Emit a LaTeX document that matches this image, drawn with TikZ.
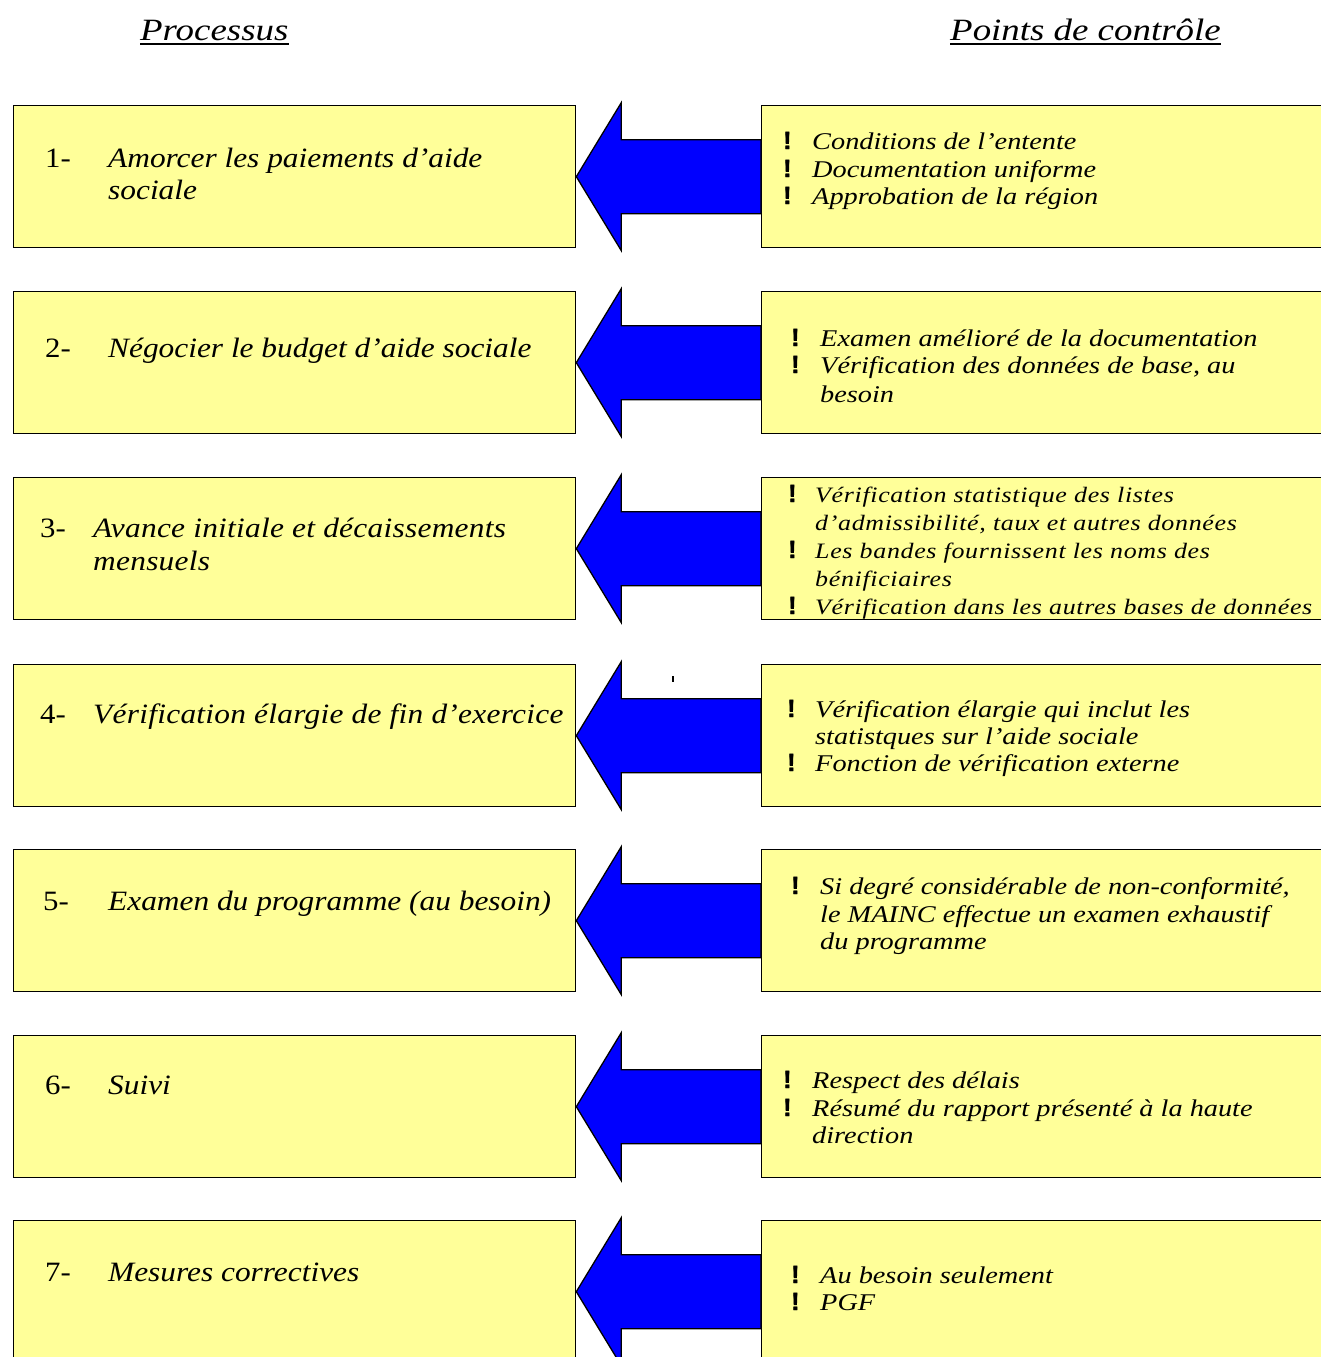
\documentclass[tikz,border=0pt]{standalone}
\usepackage{fontspec}
\setmainfont{Liberation Serif}
\newfontfamily\bangfont[FakeBold=1.5]{Liberation Sans Bold}
\newfontfamily\hdfont[FakeStretch=1.19]{Liberation Serif Italic}
\newfontfamily\lfont[FakeStretch=1.12]{Liberation Serif Italic}
\newfontfamily\lwfont[FakeStretch=1.12,LetterSpace=1]{Liberation Serif Italic}
\newfontfamily\rfont[FakeStretch=1.18]{Liberation Serif Italic}
\newfontfamily\rsfont[FakeStretch=1.18,LetterSpace=3]{Liberation Serif Italic}
\newfontfamily\numfont[FakeStretch=1.1]{Liberation Serif}
\usetikzlibrary{calc}
\definecolor{boxyellow}{RGB}{255,255,153}
\definecolor{arrowblue}{RGB}{0,0,255}
\begin{document}
\begin{tikzpicture}[x=1pt,y=-1pt,
  box/.style={draw=black, line width=1.3pt, fill=boxyellow, inner sep=0pt, anchor=north west, minimum height=142pt},
  lbox/.style={box, minimum width=562pt},
  rbox/.style={box, minimum width=580pt},
  arr/.style={draw=black, line width=1.3pt, fill=arrowblue, line join=miter},
  lt/.style={anchor=base west, inner sep=0pt, font=\fontsize{28}{30}\lfont},
  ltw/.style={anchor=base west, inner sep=0pt, font=\fontsize{28}{30}\lwfont},
  num/.style={anchor=base west, inner sep=0pt, font=\fontsize{28}{30}\numfont},
  rt/.style={anchor=base west, inner sep=0pt, font=\fontsize{24}{27}\rfont},
  rts/.style={anchor=base west, inner sep=0pt, font=\fontsize{22}{27}\rsfont},
  bang/.style={anchor=base west, inner sep=0pt, font=\fontsize{25}{26}\bangfont},
  hd/.style={anchor=base west, inner sep=0pt, font=\fontsize{31}{34}\hdfont}]
\useasboundingbox (0,0) rectangle (1320,1357);

% headers
\node[hd] (h1) at (140,40) {Processus};
\node[hd] (h2) at (950,40) {Points de contrôle};
\draw[line width=1.5pt] ([yshift=-4pt]h1.base west) -- ([yshift=-4pt]h1.base east);
\draw[line width=1.5pt] ([yshift=-4pt]h2.base west) -- ([yshift=-4pt]h2.base east);

% boxes
\foreach \i/\t in {1/105,2/291,3/477,4/664,5/849,6/1035,7/1220}{
  \node[lbox] (L\i) at (13,\t) {};
  \node[rbox] (R\i) at (761,\t) {};
}

% arrows
\foreach \i in {1,...,7}{
  \draw[arr] (L\i.east) -- ($(L\i.east)+(45,-74)$) -- ($(L\i.east)+(45,-37)$)
    -- ($(R\i.west)+(0,-37)$) -- ($(R\i.west)+(0,37)$)
    -- ($(L\i.east)+(45,37)$) -- ($(L\i.east)+(45,74)$) -- cycle;
}
\fill (672,676) rectangle (674,682);

% row 1
\node[num] (n1) at (45,167) {1-};
\node[lt] (a1) at (108,167) {Amorcer les paiements d’aide};
\node[lt] (a1b) at (108,199) {sociale};
\node[bang] (b1a) at (783,149) {!};
\node[rt] (c1a) at (812,149) {Conditions de l’entente};
\node[bang] (b1b) at (783,177) {!};
\node[rt] (c1b) at (812,177) {Documentation uniforme};
\node[bang] (b1c) at (783,204) {!};
\node[rt] (c1c) at (812,204) {Approbation de la région};

% row 2
\node[num] (n2) at (45,357) {2-};
\node[lt] (a2) at (108,357) {Négocier le budget d’aide sociale};
\node[bang] (b2a) at (791,346) {!};
\node[rt] (c2a) at (820,346) {Examen amélioré de la documentation};
\node[bang] (b2b) at (791,373) {!};
\node[rt] (c2b) at (820,373) {Vérification des données de base, au};
\node[rt] (c2c) at (820,402) {besoin};

% row 3
\node[num] (n3) at (40,537) {3-};
\node[ltw] (a3) at (93,537) {Avance initiale et décaissements};
\node[ltw] (a3b) at (93,570) {mensuels};
\node[bang] (b3a) at (788,502) {!};
\node[rts] (c3a) at (815,502) {Vérification statistique des listes};
\node[rts] (c3b) at (815,530) {d’admissibilité, taux et autres données};
\node[bang] (b3c) at (788,558) {!};
\node[rts] (c3c) at (815,558) {Les bandes fournissent les noms des};
\node[rts] (c3d) at (815,586) {bénificiaires};
\node[bang] (b3e) at (788,614) {!};
\node[rts] (c3e) at (815,614) {Vérification dans les autres bases de données};

% row 4
\node[num] (n4) at (40,723) {4-};
\node[ltw] (a4) at (93,723) {Vérification élargie de fin d’exercice};
\node[bang] (b4a) at (787,717) {!};
\node[rt] (c4a) at (815,717) {Vérification élargie qui inclut les};
\node[rt] (c4b) at (815,744) {statistques sur l’aide sociale};
\node[bang] (b4c) at (787,771) {!};
\node[rt] (c4c) at (815,771) {Fonction de vérification externe};

% row 5
\node[num] (n5) at (43,910) {5-};
\node[lt] (a5) at (108,910) {Examen du programme (au besoin)};
\node[bang] (b5a) at (791,894) {!};
\node[rt] (c5a) at (820,894) {Si degré considérable de non-conformité,};
\node[rt] (c5b) at (820,922) {le MAINC effectue un examen exhaustif};
\node[rt] (c5c) at (820,949) {du programme};

% row 6
\node[num] (n6) at (45,1094) {6-};
\node[lt] (a6) at (108,1094) {Suivi};
\node[bang] (b6a) at (783,1088) {!};
\node[rt] (c6a) at (812,1088) {Respect des délais};
\node[bang] (b6b) at (783,1116) {!};
\node[rt] (c6b) at (812,1116) {Résumé du rapport présenté à la haute};
\node[rt] (c6c) at (812,1143) {direction};

% row 7
\node[num] (n7) at (45,1281) {7-};
\node[lt] (a7) at (108,1281) {Mesures correctives};
\node[bang] (b7a) at (791,1283) {!};
\node[rt] (c7a) at (820,1283) {Au besoin seulement};
\node[bang] (b7b) at (791,1310) {!};
\node[rt] (c7b) at (820,1310) {PGF};
\end{tikzpicture}
\end{document}
